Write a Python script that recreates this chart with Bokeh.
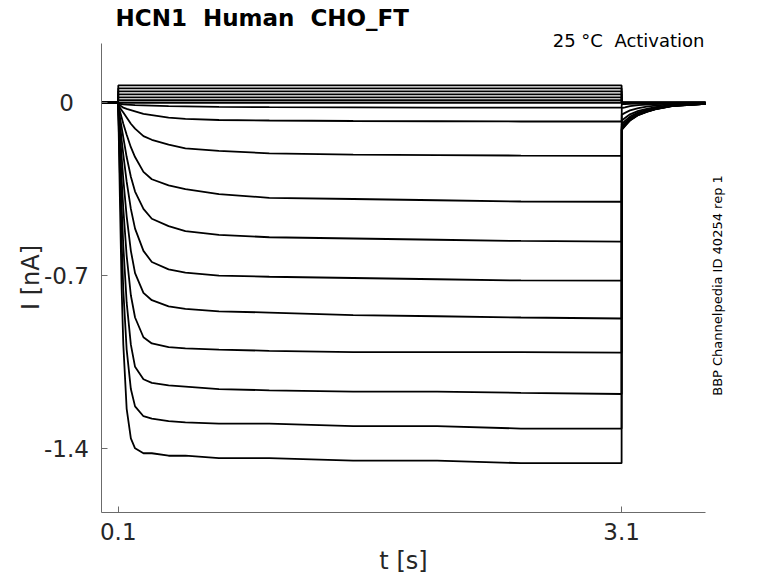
from bokeh.plotting import figure
from bokeh.models import Label, LabelSet, ColumnDataSource, FixedTicker
from bokeh.core.properties import value
from bokeh.embed import file_html
from bokeh.resources import INLINE

# ---------------- data ----------------
# shared time base [s]
t_s = [0.0, 0.099, 0.1, 0.11, 0.12, 0.13, 0.15, 0.175, 0.2, 0.25, 0.3, 0.4, 0.5,
       0.7, 1.0, 1.5, 2.0, 2.5, 3.1, 3.101, 3.12, 3.15, 3.2, 3.25, 3.3, 3.4, 3.6]

# activating sweeps [nA]: 2 holding points, 17 step points, 8 tail points
sweep_01 = [0, 0, -0.02, -0.40, -0.75, -0.98, -1.24, -1.36, -1.40, -1.42, -1.42, -1.43, -1.43,
            -1.44, -1.44, -1.45, -1.45, -1.46, -1.46,
            -0.11, -0.095, -0.072, -0.05, -0.037, -0.027, -0.014, -0.004]
sweep_02 = [0, 0, -0.02, -0.30, -0.56, -0.76, -1.00, -1.16, -1.23, -1.27, -1.28, -1.29, -1.295,
            -1.30, -1.30, -1.31, -1.31, -1.32, -1.32,
            -0.108, -0.093, -0.071, -0.049, -0.036, -0.026, -0.014, -0.004]
sweep_03 = [0, 0, -0.02, -0.23, -0.42, -0.58, -0.81, -0.98, -1.07, -1.12, -1.135, -1.145, -1.15,
            -1.16, -1.165, -1.17, -1.17, -1.175, -1.18,
            -0.106, -0.091, -0.07, -0.048, -0.036, -0.026, -0.013, -0.004]
sweep_04 = [0, 0, -0.02, -0.17, -0.31, -0.43, -0.62, -0.78, -0.87, -0.95, -0.975, -0.99, -0.995,
            -1.00, -1.005, -1.01, -1.01, -1.01, -1.012,
            -0.104, -0.09, -0.068, -0.047, -0.035, -0.025, -0.013, -0.004]
sweep_05 = [0, 0, -0.02, -0.12, -0.22, -0.31, -0.46, -0.60, -0.69, -0.77, -0.80, -0.825, -0.835,
            -0.845, -0.85, -0.86, -0.865, -0.87, -0.874,
            -0.10, -0.086, -0.066, -0.045, -0.034, -0.024, -0.012, -0.004]
sweep_06 = [0, 0, -0.015, -0.08, -0.15, -0.21, -0.32, -0.43, -0.51, -0.60, -0.645, -0.675, -0.688,
            -0.70, -0.705, -0.71, -0.715, -0.72, -0.721,
            -0.095, -0.082, -0.062, -0.043, -0.032, -0.023, -0.012, -0.003]
sweep_07 = [0, 0, -0.015, -0.06, -0.10, -0.14, -0.22, -0.30, -0.36, -0.43, -0.47, -0.50, -0.52,
            -0.535, -0.545, -0.55, -0.555, -0.56, -0.563,
            -0.086, -0.074, -0.056, -0.039, -0.029, -0.021, -0.011, -0.003]
sweep_08 = [0, 0, -0.01, -0.035, -0.06, -0.085, -0.13, -0.18, -0.22, -0.28, -0.31, -0.335, -0.35,
            -0.37, -0.385, -0.39, -0.395, -0.40, -0.401,
            -0.072, -0.062, -0.047, -0.033, -0.025, -0.018, -0.009, -0.003]
sweep_09 = [0, 0, -0.01, -0.02, -0.03, -0.04, -0.06, -0.085, -0.105, -0.135, -0.15, -0.17, -0.185,
            -0.195, -0.205, -0.21, -0.212, -0.214, -0.215,
            -0.048, -0.041, -0.031, -0.022, -0.016, -0.012, -0.006, -0.002]
sweep_10 = [0, 0, -0.005, -0.01, -0.015, -0.02, -0.025, -0.03, -0.035, -0.045, -0.05, -0.06, -0.065,
            -0.07, -0.072, -0.074, -0.075, -0.076, -0.076,
            -0.022, -0.019, -0.014, -0.01, -0.008, -0.006, -0.003, -0.001]
sweep_11 = [0, 0, -0.004, -0.005, -0.006, -0.007, -0.008, -0.009, -0.01, -0.011, -0.012, -0.014, -0.015,
            -0.017, -0.018, -0.019, -0.02, -0.02, -0.02,
            -0.006, -0.005, -0.004, -0.003, -0.002, -0.002, -0.001, 0.0]
# non-activating sweeps: steady level during the step [nA]
flat_levels = [0.0, 0.01, 0.022, 0.034, 0.046, 0.058, 0.07]

x_ticks = [0.1, 3.1]
x_tick_labels = ["0.1", "3.1"]
y_ticks = [0.0, -0.7, -1.4]
y_tick_labels = ["0", "-0.7", "-1.4"]

NB = "\u00a0"  # keeps the double spaces of the original texts
title_text = "HCN1 " + NB + "Human " + NB + "CHO_FT"
cond_text = "25 °C " + NB + "Activation"
side_text = "BBP Channelpedia ID 40254 rep 1"
x_label = "t [s]"
y_label = "I [nA]"

# ---------------- layout ----------------
W, H = 770, 575
X0, X1 = 0.0, 3.6            # axis extent (data)
Y0, Y1 = -1.66, 0.24
FL, FT, FR, FB = 101, 43, 705, 512       # axis box in page pixels
FONT = "DejaVu Sans"


def px_x(px):
    return X0 + (px - FL) * (X1 - X0) / (FR - FL)


def px_y(py):
    return Y1 - (py - FT) * (Y1 - Y0) / (FB - FT)


p = figure(width=W, height=H, x_range=(px_x(0), px_x(W)), y_range=(px_y(H), px_y(0)),
           output_backend="svg", toolbar_location=None,
           min_border_left=0, min_border_right=0, min_border_top=0, min_border_bottom=0)
p.title.visible = False
p.outline_line_color = None
p.xgrid.visible = False
p.ygrid.visible = False
p.background_fill_color = "white"
p.border_fill_color = "white"

AX = "#6b6b6b"
TXT = "#262626"
for ax in (p.xaxis[0], p.yaxis[0]):
    ax.axis_line_color = AX
    ax.major_tick_line_color = AX
    ax.minor_tick_line_color = None
    ax.major_tick_in = 6
    ax.major_tick_out = 0
    ax.major_label_text_font = FONT
    ax.major_label_text_color = TXT

p.xaxis.fixed_location = Y0
p.xaxis.bounds = (X0, X1)
p.xaxis.ticker = FixedTicker(ticks=x_ticks)
p.xaxis.major_label_overrides = dict(zip(x_ticks, x_tick_labels))
p.xaxis.major_label_text_font_size = "23px"
p.xaxis.major_label_standoff = 10

p.yaxis.fixed_location = X0
p.yaxis.bounds = (Y0, Y1)
p.yaxis.ticker = FixedTicker(ticks=y_ticks)
p.yaxis.major_label_overrides = {v: "" for v in y_ticks}

ysrc = ColumnDataSource(dict(x=[px_x(66)] * len(y_ticks), y=y_ticks, text=y_tick_labels))
p.add_layout(LabelSet(x="x", y="y", text="text", source=ysrc, text_align="center",
                      text_baseline="middle", text_font=value(FONT),
                      text_font_size=value("23px"), text_color=value(TXT)))

# ---------------- traces ----------------
sweeps = [sweep_01, sweep_02, sweep_03, sweep_04, sweep_05, sweep_06, sweep_07,
          sweep_08, sweep_09, sweep_10, sweep_11]
for lvl in flat_levels:
    sweeps.append([0, 0] + [lvl] * 17 + [0.0] * 8)

for s in sweeps:
    p.line(t_s, s, line_color="black", line_width=1.8)

# ---------------- texts ----------------
p.add_layout(Label(x=px_x(115), y=px_y(17), text=title_text, text_font=FONT,
                   text_font_size="23px", text_font_style="bold", text_color="black",
                   text_align="left", text_baseline="middle"))
p.add_layout(Label(x=px_x(704), y=px_y(40), text=cond_text, text_font=FONT,
                   text_font_size="18px", text_color="black",
                   text_align="right", text_baseline="middle"))
p.add_layout(Label(x=px_x(717), y=px_y(285), text=side_text, text_font=FONT,
                   text_font_size="13px", text_color="black", angle=1.5707963,
                   text_align="center", text_baseline="middle"))
p.add_layout(Label(x=px_x(403), y=px_y(560), text=x_label, text_font=FONT,
                   text_font_size="24px", text_color=TXT,
                   text_align="center", text_baseline="middle"))
p.add_layout(Label(x=px_x(30), y=px_y(277), text=y_label, text_font=FONT,
                   text_font_size="24px", text_color=TXT, angle=1.5707963,
                   text_align="center", text_baseline="middle"))

open("out.html", "w").write(file_html(p, INLINE))
